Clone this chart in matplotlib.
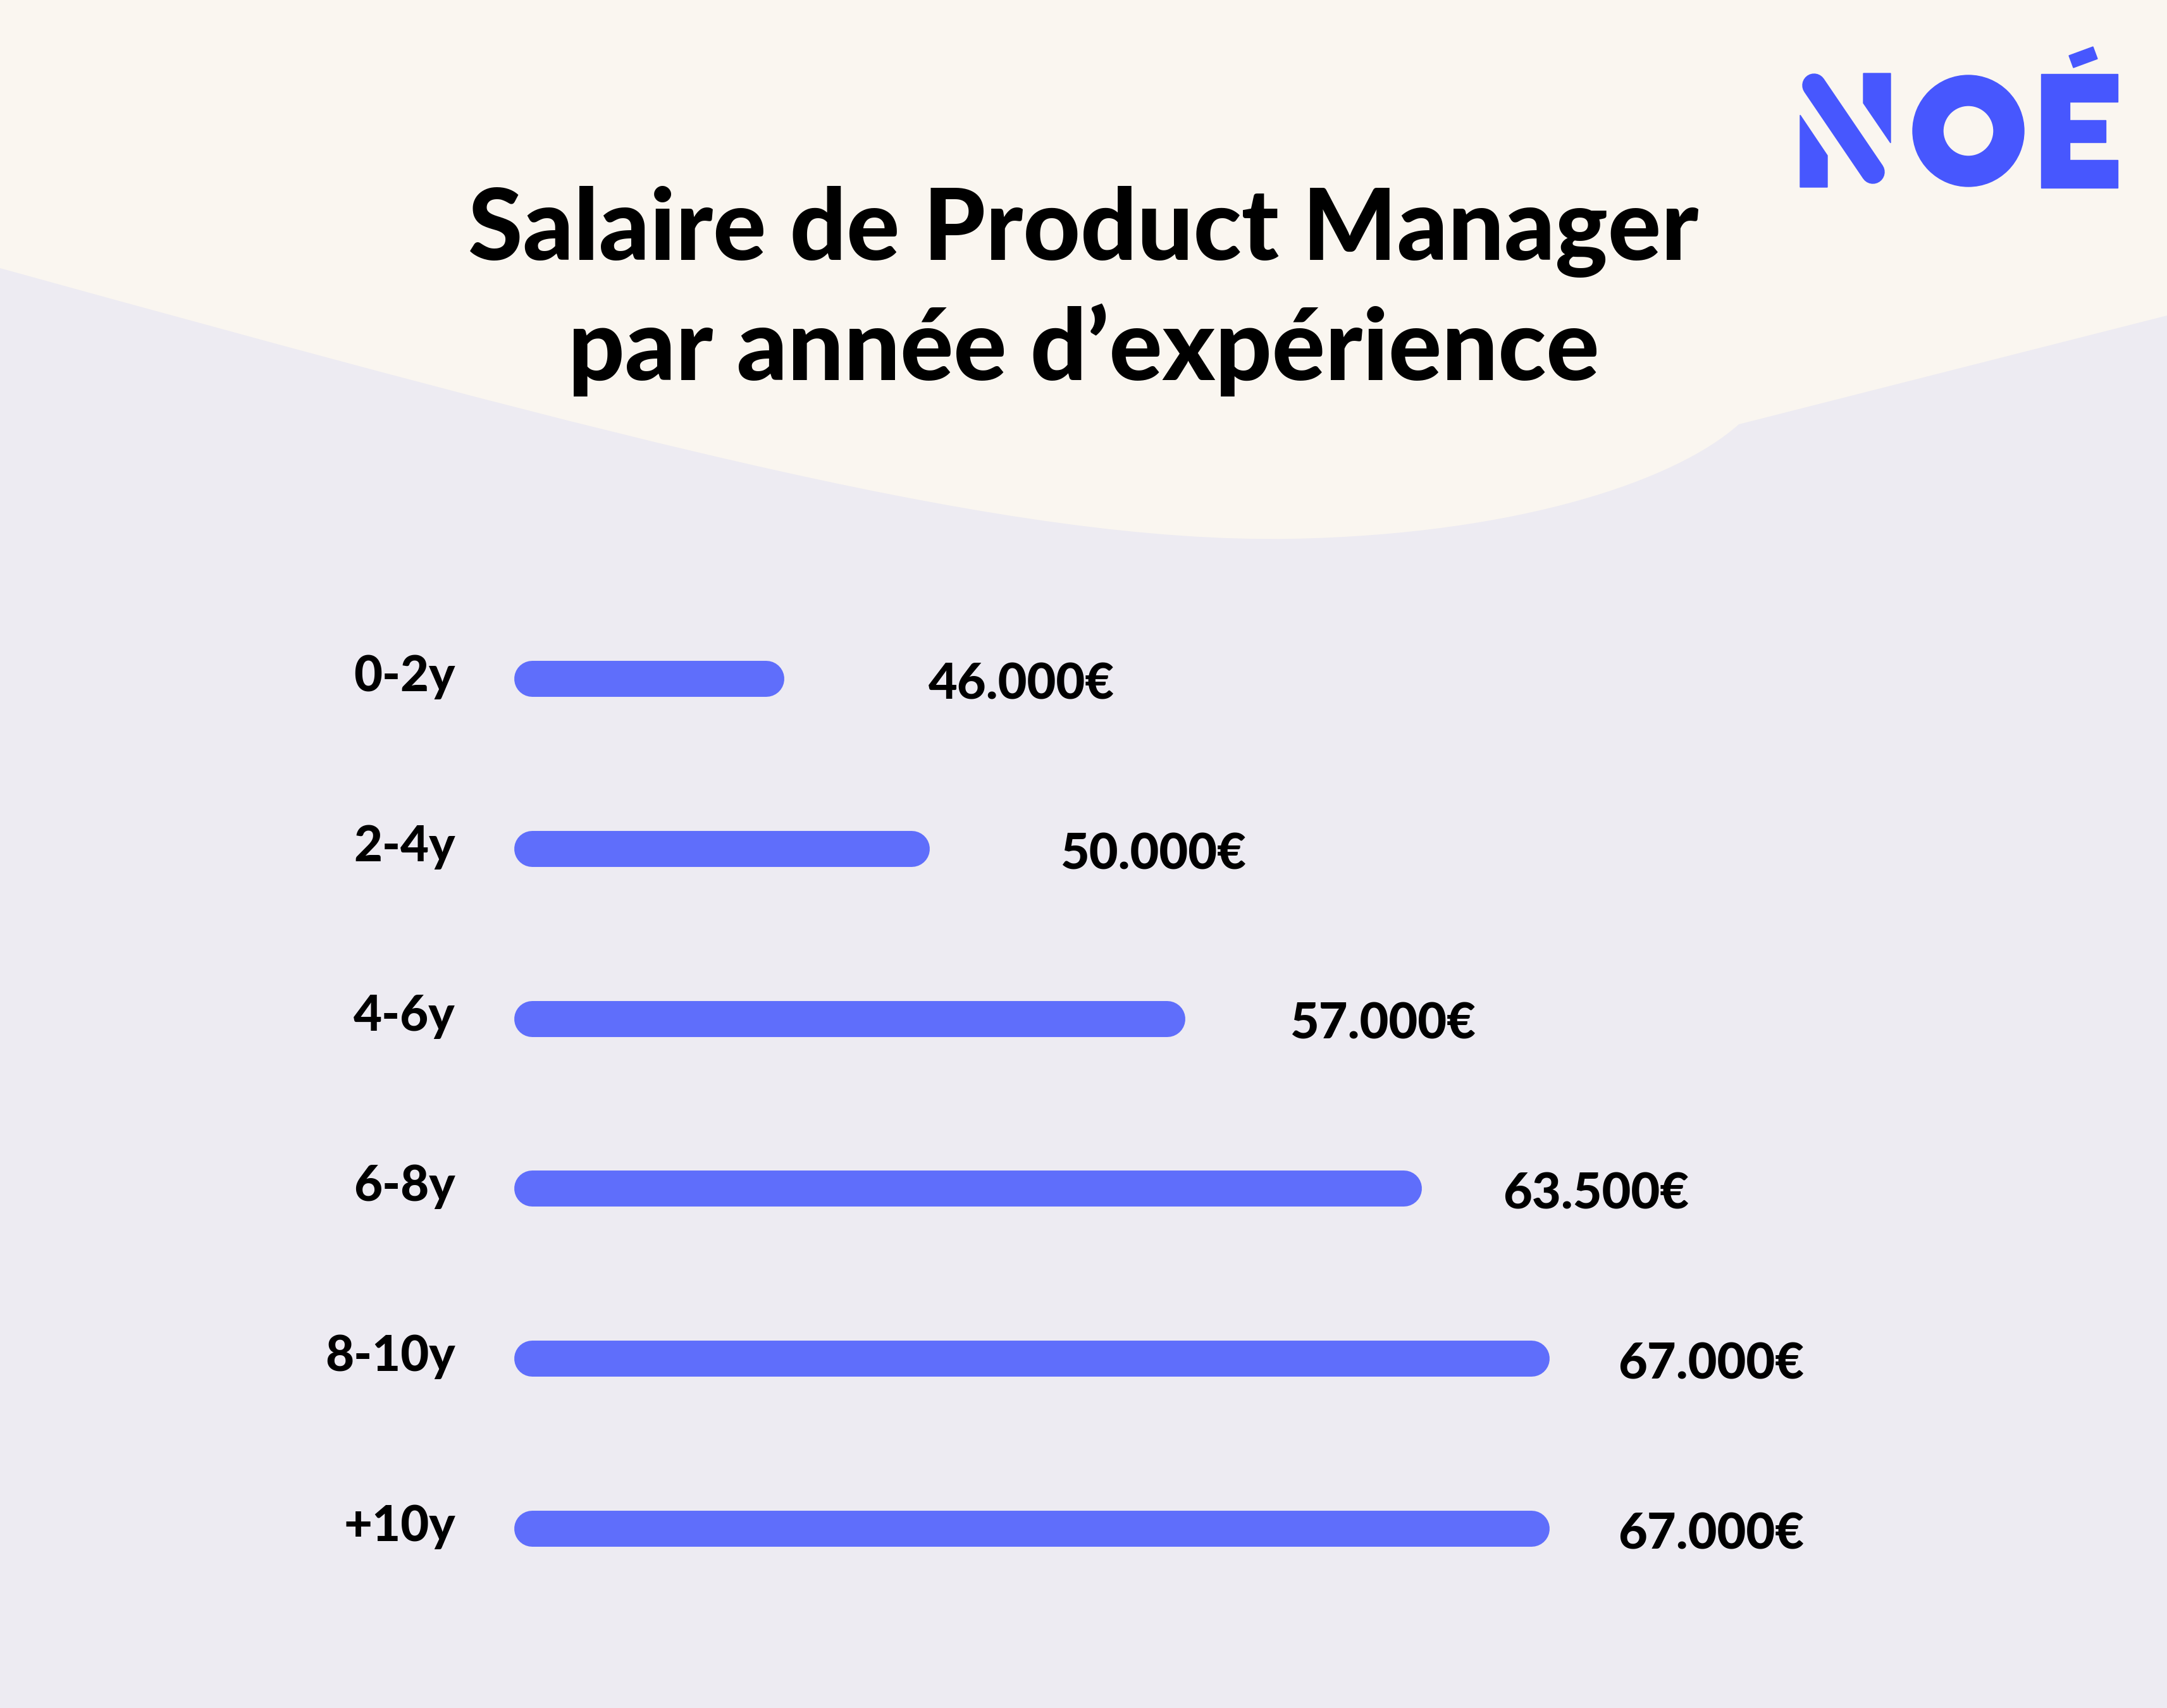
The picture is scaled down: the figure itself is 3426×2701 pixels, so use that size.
import matplotlib.pyplot as plt
from matplotlib.path import Path
from matplotlib.patches import PathPatch, Polygon, Annulus, Rectangle

# data
categories = ['0-2y', '2-4y', '4-6y', '6-8y', '8-10y', '+10y']
salaries = [46000, 50000, 57000, 63500, 67000, 67000]
labels = ['46.000€', '50.000€', '57.000€', '63.500€', '67.000€', '67.000€']

W, H = 3426, 2701
CREAM = '#FAF6F0'
LAVENDER = '#EDEBF2'
BAR = '#5F6EFB'
LOGO = '#4757FE'
FONT = ['Lato', 'DejaVu Sans']

plt.rcParams['font.family'] = FONT

fig = plt.figure(figsize=(W / 100, H / 100), dpi=100)

# background + logo, in pixel coords
bg = fig.add_axes([0, 0, 1, 1])
bg.set_xlim(0, W)
bg.set_ylim(H, 0)
bg.axis('off')
bg.add_patch(Rectangle((0, 0), W, H, color=LAVENDER, zorder=0))
verts = [(0, 0), (0, 424),
         (1000, 700), (1600, 860), (2043, 852),
         (2400, 845), (2650, 760), (2749, 671),
         (W, 499), (W, 0), (0, 0)]
codes = [Path.MOVETO, Path.LINETO,
         Path.CURVE4, Path.CURVE4, Path.CURVE4,
         Path.CURVE4, Path.CURVE4, Path.CURVE4,
         Path.LINETO, Path.LINETO, Path.CLOSEPOLY]
bg.add_patch(PathPatch(Path(verts, codes), facecolor=CREAM, edgecolor='none', zorder=1))

# NOÉ logo
bg.add_patch(Polygon([(2846, 182), (2889, 246), (2889, 296), (2846, 296)], color=LOGO, zorder=2))
bg.add_patch(Polygon([(2946, 116), (2989, 116), (2989, 226), (2946, 163)], color=LOGO, zorder=2))
bg.plot([2868, 2961], [135, 272], color=LOGO, lw=27, solid_capstyle='round', zorder=2)
bg.add_patch(Annulus((3112, 207), 88, 48, color=LOGO, zorder=2))
bg.add_patch(Polygon([(3227, 117), (3348, 117), (3348, 161), (3272, 161), (3272, 190),
                      (3329, 190), (3329, 225), (3272, 225), (3272, 253), (3348, 253),
                      (3348, 297), (3227, 297)], color=LOGO, zorder=2))
bg.add_patch(Polygon([(3271, 88), (3309, 74), (3316, 93), (3278, 107)], color=LOGO, zorder=2))

# title
bg.text(W / 2, 411, 'Salaire de Product Manager', ha='center', va='baseline',
        fontsize=113, fontweight='black', color='black', zorder=3)
bg.text(W / 2, 601, 'par année d’expérience', ha='center', va='baseline',
        fontsize=113, fontweight='black', color='black', zorder=3)

# bars
ax = fig.add_axes([0, 0, 1, 1])
ax.patch.set_alpha(0)
ax.set_xlim(24510, 83940)
ax.set_ylim(6.057, -3.992)
ax.axis('off')

base = 38600
pad = 490  # half of the round cap in data units
ys = list(range(len(categories)))
lc = ax.hlines(ys, base + pad, [s - pad for s in salaries], color=BAR, lw=41)
lc.set_capstyle('round')

for y, cat, s, lab in zip(ys, categories, salaries, labels):
    ax.text(37000, y + 0.074, cat, ha='right', va='baseline',
            fontsize=56, fontweight='black', color='black')
    ax.text(0.9 * s + 8580, y + 0.12, lab, ha='left', va='baseline',
            fontsize=57, fontweight='black', color='black')

fig.savefig('out.png', dpi=100)
